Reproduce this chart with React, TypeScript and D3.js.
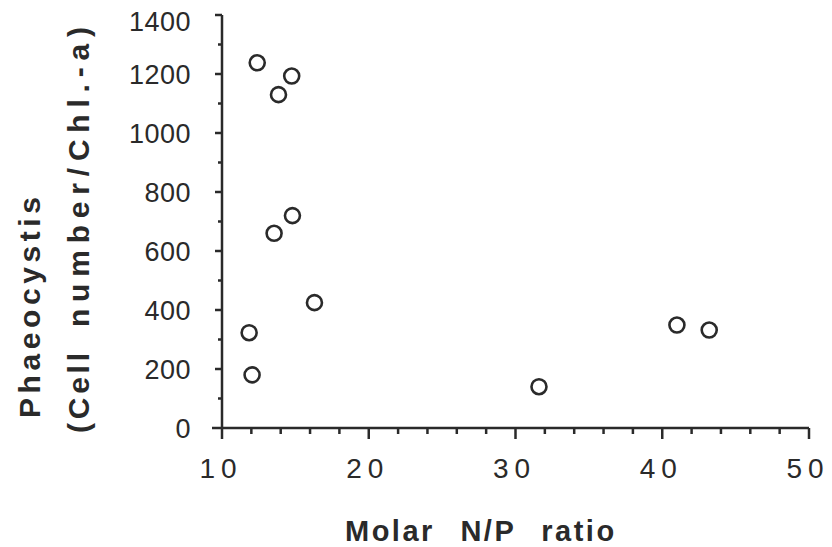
import React, { useEffect, useRef } from "react";
import * as d3 from "d3";

// values
const npRatio = [12.4, 14.75, 13.85, 14.8, 13.55, 16.3, 11.85, 12.05, 31.6, 41.0, 43.2];
const cellPerChl = [1238, 1193, 1130, 720, 660, 425, 323, 180, 140, 349, 332];

const xTicks = [10, 20, 30, 40, 50];
const yTicks = [0, 200, 400, 600, 800, 1000, 1200, 1400];

const xTitle = "Molar N/P ratio";
const yTitle1 = "Phaeocystis";
const yTitle2a = "(Cell";
const yTitle2b = "number/Chl.-a)";

const App = () => {
  const svgRef = useRef(null);

  useEffect(() => {
    const svg = d3.select(svgRef.current);
    svg.selectAll("*").remove();

    const width = 832;
    const height = 547;
    const ink = "#2a2a2a";
    const font = "'Liberation Sans', Arial, Helvetica, sans-serif";

    const xScale = d3.scaleLinear().domain([10, 50]).range([222, 809]);
    const yScale = d3.scaleLinear().domain([0, 1400]).range([428, 15]);

    svg.attr("width", width).attr("height", height);
    svg.append("rect").attr("width", width).attr("height", height).attr("fill", "#fff");

    // minor ticks (every 2 on x, every 100 on y)
    const xMinor = d3.range(12, 50, 2).filter((d) => d % 10 !== 0);
    const yMinor = d3.range(100, 1400, 200);

    const axes = svg.append("g").attr("stroke", ink).attr("stroke-width", 2.5);

    // x-axis line (starts a little left of the y axis, like the original)
    axes
      .append("line")
      .attr("x1", xScale(10) - 10)
      .attr("x2", xScale(50))
      .attr("y1", yScale(0))
      .attr("y2", yScale(0));

    // y-axis line
    axes
      .append("line")
      .attr("x1", xScale(10))
      .attr("x2", xScale(10))
      .attr("y1", yScale(1400))
      .attr("y2", yScale(0));

    axes
      .selectAll(".xmajor")
      .data(xTicks)
      .enter()
      .append("line")
      .attr("x1", (d) => xScale(d))
      .attr("x2", (d) => xScale(d))
      .attr("y1", yScale(0))
      .attr("y2", yScale(0) + 11);

    axes
      .selectAll(".xminor")
      .data(xMinor)
      .enter()
      .append("line")
      .attr("x1", (d) => xScale(d))
      .attr("x2", (d) => xScale(d))
      .attr("y1", yScale(0))
      .attr("y2", yScale(0) + 6);

    axes
      .selectAll(".ymajor")
      .data(yTicks.filter((d) => d > 0))
      .enter()
      .append("line")
      .attr("x1", xScale(10) - 7)
      .attr("x2", xScale(10))
      .attr("y1", (d) => yScale(d))
      .attr("y2", (d) => yScale(d));

    axes
      .selectAll(".yminor")
      .data(yMinor)
      .enter()
      .append("line")
      .attr("x1", xScale(10) - 4)
      .attr("x2", xScale(10))
      .attr("y1", (d) => yScale(d))
      .attr("y2", (d) => yScale(d));

    // tick labels
    svg
      .append("g")
      .style("font-family", font)
      .style("font-size", "27px")
      .style("letter-spacing", "0.5px")
      .attr("fill", ink)
      .selectAll("text")
      .data(yTicks)
      .enter()
      .append("text")
      .attr("x", 191)
      .attr("y", (d) => yScale(d) + (d === 1400 ? 6 : 0))
      .attr("dy", "0.36em")
      .attr("text-anchor", "end")
      .text((d) => d);

    svg
      .append("g")
      .style("font-family", font)
      .style("font-size", "28px")
      .style("letter-spacing", "6px")
      .attr("fill", ink)
      .selectAll("text")
      .data(xTicks)
      .enter()
      .append("text")
      .attr("x", (d) => xScale(d) - 1)
      .attr("y", 478)
      .attr("text-anchor", "middle")
      .text((d) => d);

    // axis titles
    svg
      .append("text")
      .attr("x", 345)
      .attr("y", 541)
      .attr("fill", ink)
      .style("font-family", font)
      .style("font-size", "29px")
      .style("font-weight", "bold")
      .style("letter-spacing", "2.5px")
      .style("word-spacing", "15px")
      .text(xTitle);

    const yTitle = svg
      .append("g")
      .attr("fill", ink)
      .style("font-family", font)
      .style("font-size", "30px")
      .style("font-weight", "bold");

    // rotated titles: [text, baseline x, start y, end y]
    const yTitleParts: [string, number, number, number][] = [
      [yTitle1, 40, 418, 197],
      [yTitle2a, 89, 433, 353],
      [yTitle2b, 89, 327, 27],
    ];

    yTitle
      .selectAll("text")
      .data(yTitleParts)
      .enter()
      .append("text")
      .attr("transform", (d) => `translate(${d[1]},${d[2]}) rotate(-90)`)
      .attr("textLength", (d) => d[2] - d[3])
      .attr("lengthAdjust", "spacing")
      .text((d) => d[0]);

    // data points
    svg
      .append("g")
      .selectAll("circle")
      .data(npRatio)
      .enter()
      .append("circle")
      .attr("cx", (d) => xScale(d))
      .attr("cy", (d, i) => yScale(cellPerChl[i]))
      .attr("r", 7.5)
      .attr("fill", "none")
      .attr("stroke", ink)
      .attr("stroke-width", 2.6);
  }, []);

  return (
    <div style={{ position: "fixed", left: 0, top: 0, width: 832, height: 547 }}>
      <svg ref={svgRef} style={{ display: "block" }}></svg>
    </div>
  );
};

export default App;
